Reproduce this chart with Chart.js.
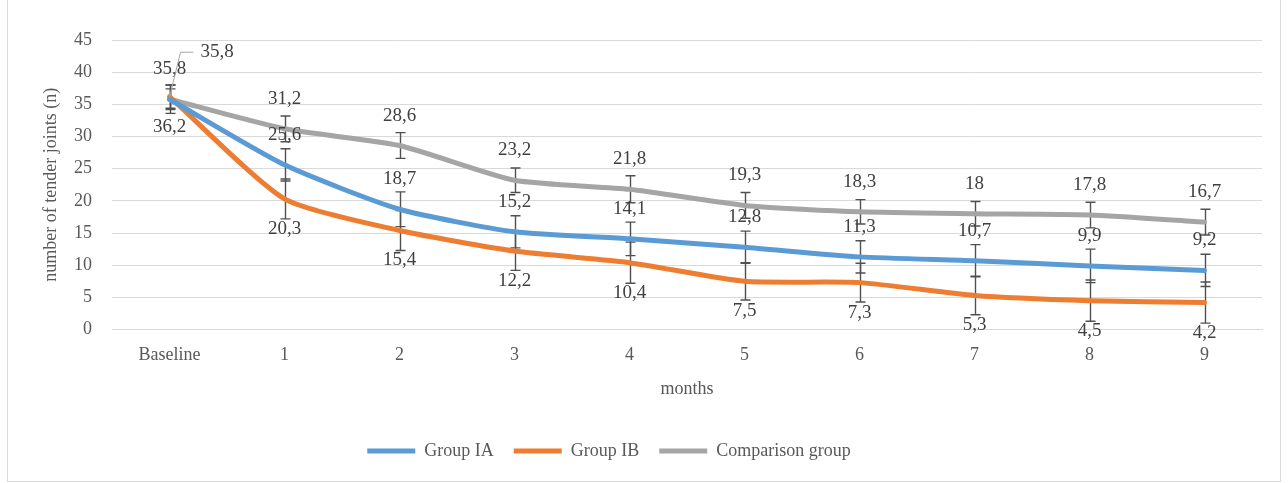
<!DOCTYPE html>
<html><head><meta charset="utf-8">
<script src="https://cdn.jsdelivr.net/npm/chart.js@4/dist/chart.umd.min.js"></script>
<style>html,body{margin:0;padding:0;background:#fff;}#wrap{position:relative;width:1288px;height:483px;}</style>
</head><body><div id="wrap"><canvas id="c" width="1288" height="483"></canvas></div>
<script>
const categories = ['Baseline', '1', '2', '3', '4', '5', '6', '7', '8', '9'];
const groupIA    = [35.8, 25.6, 18.7, 15.2, 14.1, 12.8, 11.3, 10.7, 9.9, 9.2];
const groupIB    = [36.2, 20.3, 15.4, 12.2, 10.4, 7.5, 7.3, 5.3, 4.5, 4.2];
const comparison = [35.8, 31.2, 28.6, 23.2, 21.8, 19.3, 18.3, 18.0, 17.8, 16.7];
const errIA      = [2.2, 2.5, 2.7, 2.5, 2.6, 2.5, 2.5, 2.5, 2.6, 2.5];
const errIB      = [1.8, 3.1, 3.1, 3.0, 3.2, 2.9, 3.0, 3.0, 3.2, 3.2];
const errComp    = [1.6, 2.0, 2.0, 1.9, 2.1, 2.0, 1.9, 1.9, 2.0, 2.0];
const yTicks     = [0, 5, 10, 15, 20, 25, 30, 35, 40, 45];

const FONT = "'Liberation Serif', 'Times New Roman', serif";
const fmt = v => String(v).replace('.', ',');

const chartBorder = {
  id: 'chartBorder',
  beforeDraw(chart) {
    const ctx = chart.ctx;
    ctx.save();
    ctx.strokeStyle = '#d9d9d9';
    ctx.lineWidth = 1;
    ctx.strokeRect(7.5, -1, 1273, 482.5);
    ctx.restore();
  }
};

const legendShift = {
  id: 'legendShift',
  afterLayout(chart) {
    if (chart.legend) { chart.legend.left -= 22; chart.legend.right -= 22; }
  }
};

const errorBars = {
  id: 'errorBars',
  beforeDatasetsDraw(chart) {
    const {ctx, scales: {x, y}} = chart;
    ctx.save();
    ctx.strokeStyle = '#505050';
    ctx.lineWidth = 1.4;
    chart.data.datasets.forEach(ds => {
      ds.errors.forEach((e, j) => {
        const px = Math.round(x.getPixelForValue(j)) + 0.5;
        const t = y.getPixelForValue(ds.data[j] + e);
        const b = y.getPixelForValue(ds.data[j] - e);
        ctx.beginPath();
        ctx.moveTo(px, t); ctx.lineTo(px, b);
        ctx.moveTo(px - 5, t); ctx.lineTo(px + 5, t);
        ctx.moveTo(px - 5, b); ctx.lineTo(px + 5, b);
        ctx.stroke();
      });
    });
    ctx.restore();
  }
};

const dataLabels = {
  id: 'dataLabels',
  afterDatasetsDraw(chart, args, opts) {
    const {ctx, scales: {x, y}} = chart;
    ctx.save();
    ctx.font = '19px ' + FONT;
    ctx.fillStyle = '#404040';
    ctx.textAlign = 'center';
    ctx.textBaseline = 'middle';
    chart.data.datasets.forEach((ds, i) => {
      ds.data.forEach((v, j) => {
        const px = x.getPixelForValue(j);
        const py = y.getPixelForValue(v);
        const sp = (opts.special || []).find(s => s.dataset === i && s.index === j);
        if (sp) {
          ctx.save();
          ctx.strokeStyle = '#a6a6a6';
          ctx.lineWidth = 1;
          ctx.beginPath();
          ctx.moveTo(px, py - 2);
          ctx.lineTo(px + sp.kx, py + sp.dy);
          ctx.lineTo(px + sp.dx - 26, py + sp.dy);
          ctx.stroke();
          ctx.restore();
          ctx.textAlign = 'left';
          ctx.fillText(fmt(v), px + sp.dx - 19, py + sp.dy);
          ctx.textAlign = 'center';
          return;
        }
        const off = ds.labelPos === 'below' ? opts.offset : -opts.offset;
        ctx.fillText(fmt(v), px, py + off);
      });
    });
    ctx.restore();
  }
};

const mk = (label, data, errors, color, labelPos) => ({
  label, data, errors, labelPos,
  borderColor: color, backgroundColor: color,
  borderWidth: 5, borderCapStyle: 'round', borderJoinStyle: 'round',
  pointRadius: 0, pointHoverRadius: 0, tension: 0.2, fill: false
});

new Chart(document.getElementById('c'), {
  type: 'line',
  data: {
    labels: categories,
    datasets: [
      mk('Group IA', groupIA, errIA, '#5B9BD5', 'above'),
      mk('Group IB', groupIB, errIB, '#ED7D31', 'below'),
      mk('Comparison group', comparison, errComp, '#A5A5A5', 'above')
    ]
  },
  plugins: [chartBorder, legendShift, errorBars, dataLabels],
  options: {
    responsive: false,
    animation: false,
    events: [],
    layout: {padding: {left: 0, right: 26, top: 40, bottom: 13}},
    plugins: {
      tooltip: {enabled: false},
      legend: {
        position: 'bottom',
        labels: {
          font: {family: FONT, size: 18},
          color: '#595959',
          usePointStyle: true,
          pointStyle: 'line',
          pointStyleWidth: 48,
          padding: 20
        }
      },
      dataLabels: {
        offset: 30,
        special: [{dataset: 2, index: 0, kx: 11, dx: 50, dy: -47}]
      }
    },
    scales: {
      x: {
        type: 'category',
        offset: true,
        grid: {display: false, drawTicks: false},
        border: {display: true, color: '#d9d9d9', width: 1},
        ticks: {font: {family: FONT, size: 18}, color: '#595959', padding: 15, maxRotation: 0, autoSkip: false},
        title: {display: true, text: 'months', font: {family: FONT, size: 18}, color: '#595959', padding: {top: 0, bottom: 22}},
        afterFit(s) { s.height = 92.4; }
      },
      y: {
        min: 0, max: 45,
        afterBuildTicks(s) { s.ticks = yTicks.map(v => ({value: v})); },
        grid: {color: '#d9d9d9', drawTicks: false, lineWidth: 1},
        border: {display: false},
        ticks: {font: {family: FONT, size: 18}, color: '#595959', padding: 20},
        title: {display: true, text: 'number of tender joints (n)', font: {family: FONT, size: 18}, color: '#595959', padding: {top: 40, bottom: 0}},
        afterFit(s) { s.width = 112; }
      }
    }
  }
});
</script>
</body></html>
